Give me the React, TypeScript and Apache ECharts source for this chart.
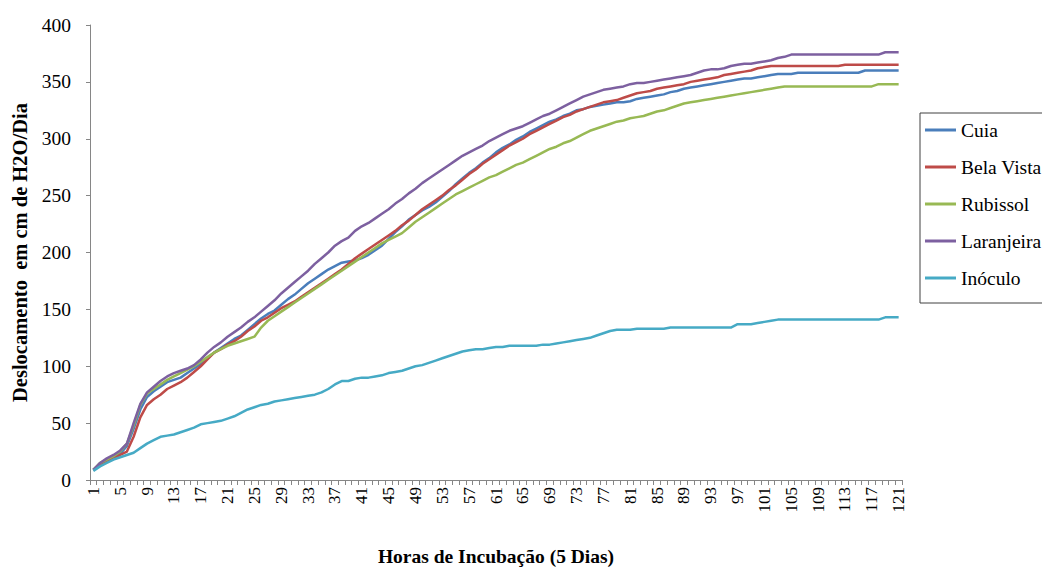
import React, { useEffect, useRef } from "react";
import * as echarts from "echarts";

const hours: string[] = Array.from({ length: 121 }, (_, i) => String(i + 1));

const cuia: number[] = [
  9, 14, 17, 20, 23, 30, 45, 62, 73, 78,
  82, 86, 88, 90, 94, 98, 102, 107, 112, 116,
  120, 124, 127, 132, 137, 142, 146, 149, 154, 159,
  163, 168, 173, 177, 181, 185, 188, 191, 192, 193,
  195, 198, 202, 206, 212, 218, 223, 229, 233, 237,
  240, 244, 249, 254, 260, 265, 270, 274, 279, 283,
  288, 292, 295, 299, 302, 306, 309, 312, 315, 317,
  320, 322, 325, 326, 328, 329, 330, 331, 332, 332,
  333, 335, 336, 337, 338, 339, 341, 342, 344, 345,
  346, 347, 348, 349, 350, 351, 352, 353, 353, 354,
  355, 356, 357, 357, 357, 358, 358, 358, 358, 358,
  358, 358, 358, 358, 358, 360, 360, 360, 360, 360,
  360,
];

const belaVista: number[] = [
  9, 13, 16, 19, 22, 25, 38, 55, 66, 71,
  75, 80, 83, 86, 90, 95, 100, 106, 112, 115,
  119, 122, 126, 131, 135, 140, 143, 147, 151, 154,
  157, 161, 165, 169, 173, 177, 181, 185, 190, 195,
  199, 203, 207, 211, 215, 219, 224, 228, 233, 238,
  242, 246, 250, 255, 259, 264, 269, 273, 278, 282,
  286, 290, 294, 297, 300, 304, 307, 310, 313, 316,
  319, 321, 324, 326, 328, 330, 332, 333, 334, 336,
  338, 340, 341, 342, 344, 345, 346, 347, 348, 350,
  351, 352, 353, 354, 356, 357, 358, 359, 360, 362,
  363, 364, 364, 364, 364, 364, 364, 364, 364, 364,
  364, 364, 365, 365, 365, 365, 365, 365, 365, 365,
  365,
];

const rubissol: number[] = [
  9, 15, 18, 21, 25, 32, 48, 66, 76, 80,
  84, 88, 91, 94, 97, 100, 104, 108, 112, 115,
  118, 120, 122, 124, 126, 134, 140, 144, 148, 152,
  156, 160, 164, 168, 172, 176, 180, 184, 188, 192,
  196, 200, 204, 208, 211, 214, 217, 222, 227, 231,
  235, 239, 243, 247, 251, 254, 257, 260, 263, 266,
  268, 271, 274, 277, 279, 282, 285, 288, 291, 293,
  296, 298, 301, 304, 307, 309, 311, 313, 315, 316,
  318, 319, 320, 322, 324, 325, 327, 329, 331, 332,
  333, 334, 335, 336, 337, 338, 339, 340, 341, 342,
  343, 344, 345, 346, 346, 346, 346, 346, 346, 346,
  346, 346, 346, 346, 346, 346, 346, 348, 348, 348,
  348,
];

const laranjeira: number[] = [
  9, 15, 19, 22, 26, 32, 50, 67, 77, 82,
  87, 91, 94, 96, 98, 101, 106, 112, 117, 121,
  126, 130, 134, 139, 143, 148, 153, 158, 164, 169,
  174, 179, 184, 190, 195, 200, 206, 210, 213, 219,
  223, 226, 230, 234, 238, 243, 247, 252, 256, 261,
  265, 269, 273, 277, 281, 285, 288, 291, 294, 298,
  301, 304, 307, 309, 311, 314, 317, 320, 322, 325,
  328, 331, 334, 337, 339, 341, 343, 344, 345, 346,
  348, 349, 349, 350, 351, 352, 353, 354, 355, 356,
  358, 360, 361, 361, 362, 364, 365, 366, 366, 367,
  368, 369, 371, 372, 374, 374, 374, 374, 374, 374,
  374, 374, 374, 374, 374, 374, 374, 374, 376, 376,
  376,
];

const inoculo: number[] = [
  8, 12, 15, 18, 20, 22, 24, 28, 32, 35,
  38, 39, 40, 42, 44, 46, 49, 50, 51, 52,
  54, 56, 59, 62, 64, 66, 67, 69, 70, 71,
  72, 73, 74, 75, 77, 80, 84, 87, 87, 89,
  90, 90, 91, 92, 94, 95, 96, 98, 100, 101,
  103, 105, 107, 109, 111, 113, 114, 115, 115, 116,
  117, 117, 118, 118, 118, 118, 118, 119, 119, 120,
  121, 122, 123, 124, 125, 127, 129, 131, 132, 132,
  132, 133, 133, 133, 133, 133, 134, 134, 134, 134,
  134, 134, 134, 134, 134, 134, 137, 137, 137, 138,
  139, 140, 141, 141, 141, 141, 141, 141, 141, 141,
  141, 141, 141, 141, 141, 141, 141, 141, 143, 143,
  143,
];

const seriesNames = ["Cuia", "Bela Vista", "Rubissol", "Laranjeira", "Inóculo"];
const seriesData = [cuia, belaVista, rubissol, laranjeira, inoculo];
const seriesColors = ["#4A7EBB", "#BE4B48", "#98B954", "#7D60A0", "#46AAC5"];

const FONT = "'Liberation Serif', 'Times New Roman', serif";

export default function App() {
  const ref = useRef<HTMLDivElement>(null);
  useEffect(() => {
    if (!ref.current) return;
    const chart = echarts.init(ref.current, undefined, { renderer: "svg" });
    chart.setOption({
      animation: false,
      backgroundColor: "#ffffff",
      textStyle: { fontFamily: FONT },
      grid: { left: 90, right: 140, top: 25, bottom: 88, containLabel: false },
      legend: {
        orient: "vertical",
        left: 920,
        top: 113,
        data: seriesNames,
        icon: "rect",
        itemWidth: 31,
        itemHeight: 3,
        itemGap: 17,
        padding: [7, 14, 15, 5],
        borderColor: "#404040",
        borderWidth: 1,
        textStyle: { fontFamily: FONT, fontSize: 19.5, color: "#000" },
      },
      xAxis: {
        type: "category",
        data: hours,
        boundaryGap: true,
        name: "Horas de Incubação (5 Dias)",
        nameLocation: "middle",
        nameGap: 66,
        nameTextStyle: { fontFamily: FONT, fontSize: 19.5, fontWeight: "bold", color: "#000" },
        axisLine: { lineStyle: { color: "#868686", width: 1 } },
        axisTick: { show: true, interval: 0, length: 5, lineStyle: { color: "#868686" } },
        axisLabel: {
          interval: 3,
          rotate: 90,
          fontFamily: FONT,
          fontSize: 17,
          color: "#000",
          margin: 7,
        },
        splitLine: { show: false },
      },
      yAxis: {
        type: "value",
        min: 0,
        max: 400,
        interval: 50,
        name: "Deslocamento  em cm de H2O/Dia",
        nameLocation: "middle",
        nameGap: 60,
        nameTextStyle: { fontFamily: FONT, fontSize: 20.5, fontWeight: "bold", color: "#000" },
        axisLine: { show: true, lineStyle: { color: "#868686", width: 1 } },
        axisTick: { show: true, length: 4, lineStyle: { color: "#868686" } },
        axisLabel: { fontFamily: FONT, fontSize: 19.5, color: "#000", margin: 19 },
        splitLine: { show: false },
      },
      series: seriesNames.map((name, i) => ({
        name,
        type: "line",
        data: seriesData[i],
        symbol: "none",
        showSymbol: false,
        smooth: false,
        lineStyle: { color: seriesColors[i], width: 2.5 },
        itemStyle: { color: seriesColors[i] },
      })),
    });
    return () => chart.dispose();
  }, []);
  return (
    <div
      ref={ref}
      style={{ position: "fixed", left: 0, top: 0, width: 1042, height: 571, background: "#fff" }}
    />
  );
}
